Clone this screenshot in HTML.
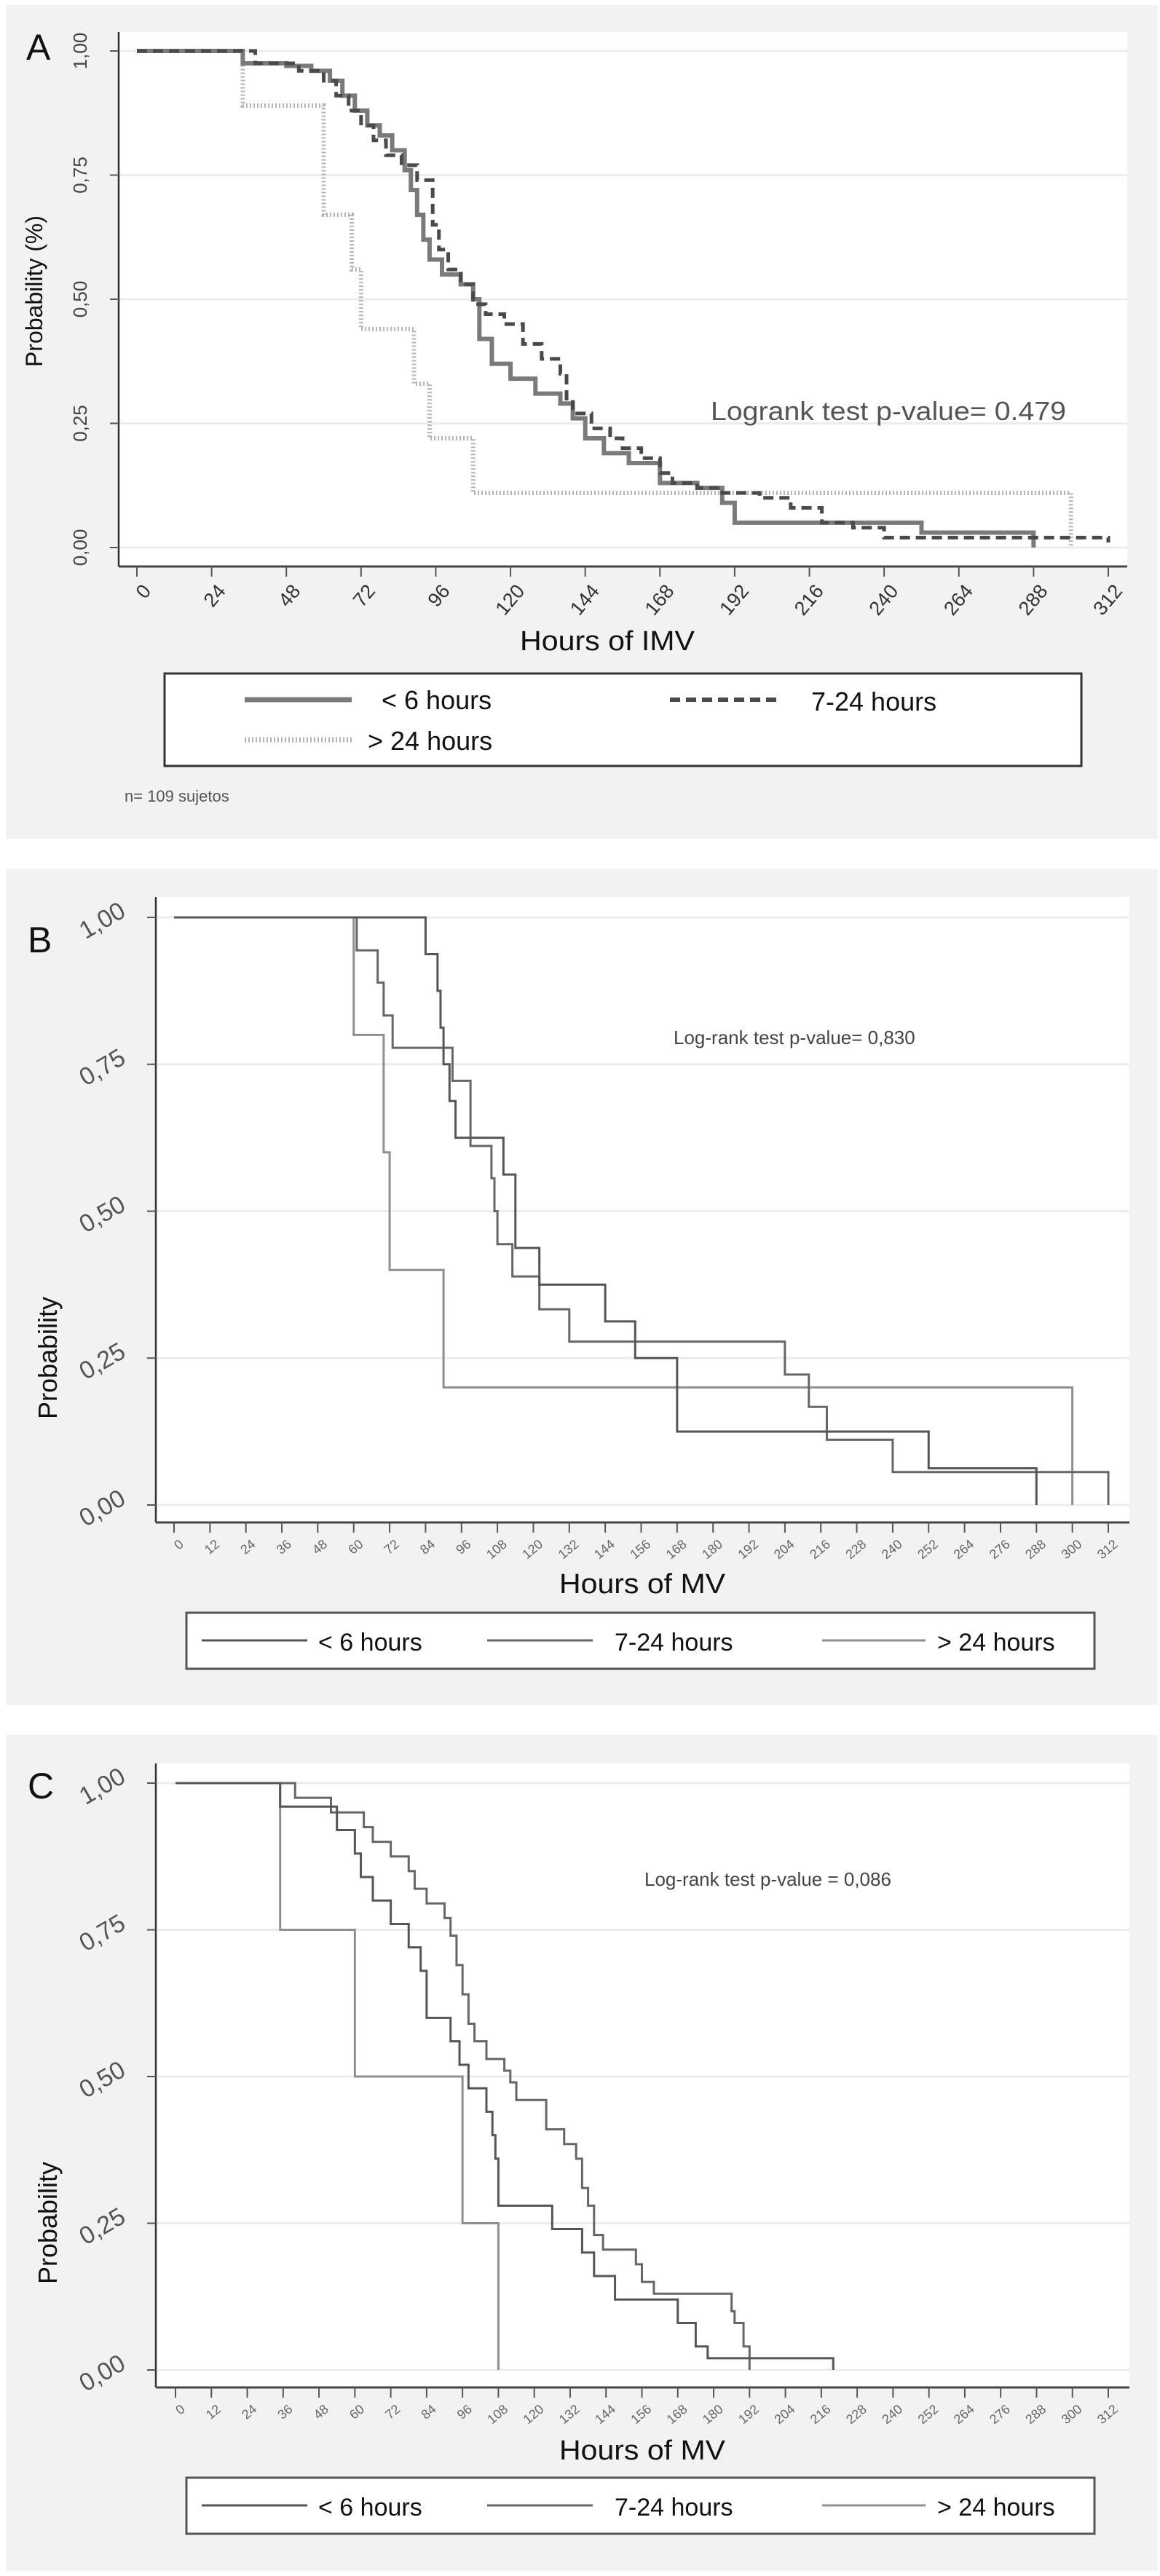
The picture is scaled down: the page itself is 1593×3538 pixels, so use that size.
<!DOCTYPE html>
<html><head><meta charset="utf-8">
<style>
html,body{margin:0;padding:0;background:#fff;}
svg{display:block;}
text{font-family:"Liberation Sans",sans-serif;}
</style></head>
<body>
<svg id="fig" width="1593" height="3538" viewBox="0 0 1593 3538" xmlns="http://www.w3.org/2000/svg"></svg>
<script>
// ---------- Panel A data ----------
const aTicksX = [0,24,48,72,96,120,144,168,192,216,240,264,288,312];
const aTicksY = [0,0.25,0.5,0.75,1];
const aTicksYLabels = ["0,00","0,25","0,50","0,75","1,00"];
const aLt6Times = [0,34,48,56,62,66,70,74,78,82,86,88,90,92,94,98,104,108,110,114,120,128,136,140,144,150,158,168,180,188,192,252,288];
const aLt6Surv  = [1,.975,.97,.96,.94,.91,.88,.85,.83,.8,.76,.72,.67,.62,.58,.55,.53,.5,.42,.37,.34,.31,.29,.26,.22,.19,.17,.13,.12,.09,.05,.03,0];
const aMidTimes = [0,38,52,60,64,68,72,76,80,85,90,95,97,100,104,108,112,118,124,130,136,138,140,146,152,156,162,168,172,180,188,200,210,220,230,240,312];
const aMidSurv  = [1,.975,.96,.94,.91,.88,.85,.82,.79,.77,.74,.65,.6,.56,.53,.49,.47,.45,.41,.38,.35,.3,.27,.24,.22,.2,.18,.15,.13,.12,.11,.1,.08,.05,.04,.02,.01];
const aGt24Times = [0,34,60,69,72,89,94,108,300];
const aGt24Surv  = [1,.89,.67,.56,.44,.33,.22,.11,0];
// ---------- Panel B data ----------
const bcTicksX = [0,12,24,36,48,60,72,84,96,108,120,132,144,156,168,180,192,204,216,228,240,252,264,276,288,300,312];
const bLt6Times = [0,84,88,89,90,92,94,110,114,122,144,154,168,252,288];
const bLt6Surv  = [1,.9375,.875,.8125,.75,.6875,.625,.5625,.4375,.375,.3125,.25,.125,.0625,0];
const bMidTimes = [0,61,68,70,73,93,99,106,107,108,113,122,132,204,212,218,240,312];
const bMidSurv  = [1,.944,.889,.833,.778,.722,.611,.556,.5,.444,.389,.333,.278,.222,.167,.111,.056,0];
const bGt24Times = [0,60,70,72,90,300];
const bGt24Surv  = [1,.8,.6,.4,.2,0];
// ---------- Panel C data ----------
const cLt6Times = [0,35,54,60,62,66,72,78,82,84,92,95,98,104,106,107,108,126,136,140,147,168,174,178,220];
const cLt6Surv  = [1,.96,.92,.88,.84,.8,.76,.72,.68,.6,.56,.52,.48,.44,.4,.36,.28,.24,.2,.16,.12,.08,.04,.02,0];
const cMidTimes = [0,40,52,63,66,72,78,80,84,90,92,94,96,98,100,104,110,112,114,124,130,134,136,138,140,143,154,156,160,186,187,190,192];
const cMidSurv  = [1,.975,.95,.925,.9,.875,.85,.82,.795,.77,.74,.69,.64,.59,.56,.53,.51,.49,.46,.41,.385,.36,.31,.28,.23,.205,.18,.15,.13,.1,.08,.04,0];
const cGt24Times = [0,35,60,96,108];
const cGt24Surv  = [1,.75,.5,.25,0];

const NS = "http://www.w3.org/2000/svg";
const svg = document.getElementById('fig');
function mk(tag, attrs, parent){
  const e = document.createElementNS(NS, tag);
  for (const k in attrs) e.setAttribute(k, attrs[k]);
  (parent||svg).appendChild(e);
  return e;
}
function txt(s, attrs, parent){ const e = mk('text', attrs, parent); e.textContent = s; return e; }

function stepPath(times, surv, sx, sy){
  let d = `M${sx(times[0])},${sy(surv[0])}`;
  for (let i=1;i<times.length;i++){
    d += ` H${sx(times[i])} V${sy(surv[i])}`;
  }
  return d;
}

function panel(cfg){
  const g = mk('g', {});
  
  
  const bg = mk('rect', {x:8, y:cfg.top, width:1582, height:cfg.bottom-cfg.top, fill:'#f2f2f2'}, g);
  
  
  const plot = mk('rect', {x:cfg.axX, y:cfg.plotTop, width:cfg.plotRight-cfg.axX, height:cfg.axY-cfg.plotTop, fill:'#fff'}, g);
  
  
  const sx = t => cfg.x0 + (t/312)*(cfg.x312-cfg.x0);
  const sy = p => cfg.y0 - p*(cfg.y0-cfg.y1);
  aTicksY.forEach(v=>{
    const l = mk('line', {x1:cfg.axX, x2:cfg.plotRight, y1:sy(v), y2:sy(v), stroke:'#ececec', 'stroke-width':3}, g);
    
    
  });
  const ya = mk('line', {x1:cfg.axX, x2:cfg.axX, y1:cfg.plotTop, y2:cfg.axY, stroke:'#333', 'stroke-width':2.5}, g);
  
  
  const xa = mk('line', {x1:cfg.axX, x2:cfg.plotRight, y1:cfg.axY, y2:cfg.axY, stroke:'#444', 'stroke-width':3}, g);
  
  
  aTicksY.forEach((v,i)=>{
    mk('line', {x1:cfg.axX-12, x2:cfg.axX, y1:sy(v), y2:sy(v), stroke:'#555', 'stroke-width':2}, g);
    const t = txt(aTicksYLabels[i], {x:0, y:0, 'font-size':cfg.yTickFont, fill:cfg.yTickColor, 'text-anchor':'middle',
      transform:`translate(${cfg.axX-cfg.yTickOff},${sy(v)+cfg.yTickDy}) rotate(${cfg.yTickRot})`}, g);
    
    
  });
  cfg.ticksX.forEach(v=>{
    mk('line', {x1:sx(v), x2:sx(v), y1:cfg.axY, y2:cfg.axY+14, stroke:'#555', 'stroke-width':2}, g);
    const t = txt(String(v), {x:0, y:0, 'font-size':cfg.xTickFont, fill:cfg.xTickColor, 'text-anchor':'end',
      transform:`translate(${sx(v)+6},${cfg.axY+22}) rotate(${cfg.xTickRot})`, 'dominant-baseline':'hanging'}, g);
    
    
  });
  cfg.series.forEach(s=>{
    const p = mk('path', {d:stepPath(s.t, s.s, sx, sy), fill:'none', stroke:s.color, 'stroke-width':s.w, 'stroke-dasharray':s.dash||'none'}, g);
    
    
  });
  return g;
}

const gA = panel({name:'panel-a', top:7, bottom:1152, axX:163, plotTop:44, plotRight:1548, axY:778,
  x0:188, x312:1522, y0:752, y1:70, ticksX:aTicksX,
  yTickFont:26, yTickColor:'#444', yTickOff:44, yTickDy:0, yTickRot:-90,
  xTickFont:27, xTickColor:'#333', xTickRot:-50,
  series:[
    {name:'curve-gt24h', t:aGt24Times, s:aGt24Surv, color:'#b4b4b4', w:6, dash:'2 3'},
    {name:'curve-lt6h', t:aLt6Times, s:aLt6Surv, color:'#7a7a7a', w:6},
    {name:'curve-7-24h', t:aMidTimes, s:aMidSurv, color:'#4a4a4a', w:5, dash:'14 8'}
  ]});
const gB = panel({name:'panel-b', top:1193, bottom:2342, axX:214, plotTop:1232, plotRight:1551, axY:2091,
  x0:239, x312:1522, y0:2067, y1:1260, ticksX:bcTicksX,
  yTickFont:34, yTickColor:'#555', yTickOff:68, yTickDy:14, yTickRot:-30,
  xTickFont:18, xTickColor:'#666', xTickRot:-40,
  series:[
    {name:'curve-gt24h', t:bGt24Times, s:bGt24Surv, color:'#8f8f8f', w:3},
    {name:'curve-7-24h', t:bMidTimes, s:bMidSurv, color:'#666', w:3},
    {name:'curve-lt6h', t:bLt6Times, s:bLt6Surv, color:'#555', w:3}
  ]});
const gC = panel({name:'panel-c', top:2383, bottom:3531, axX:214, plotTop:2422, plotRight:1551, axY:3279,
  x0:241, x312:1522, y0:3255, y1:2449, ticksX:bcTicksX,
  yTickFont:34, yTickColor:'#555', yTickOff:68, yTickDy:14, yTickRot:-30,
  xTickFont:18, xTickColor:'#666', xTickRot:-40,
  series:[
    {name:'curve-gt24h', t:cGt24Times, s:cGt24Surv, color:'#8f8f8f', w:3},
    {name:'curve-7-24h', t:cMidTimes, s:cMidSurv, color:'#666', w:3},
    {name:'curve-lt6h', t:cLt6Times, s:cLt6Surv, color:'#555', w:3}
  ]});

function label(g, s, attrs, name){
  const t = txt(s, attrs, g);
  
  
  return t;
}
label(gA, 'A', {x:36, y:82, 'font-size':50, fill:'#111'}, 'panel-letter');
label(gA, 'Probability (%)', {x:0,y:0,'font-size':32,fill:'#111','text-anchor':'middle',transform:'translate(58,400) rotate(-90)'}, 'y-axis-title');
label(gA, 'Hours of IMV', {x:834, y:893, 'font-size':38, fill:'#111', 'text-anchor':'middle', textLength:240, lengthAdjust:'spacingAndGlyphs'}, 'x-axis-title');
label(gA, 'Logrank test p-value= 0.479', {x:976, y:577, 'font-size':36, fill:'#555', textLength:488, lengthAdjust:'spacingAndGlyphs'}, 'logrank-annotation');
label(gA, 'n= 109 sujetos', {x:171, y:1101, 'font-size':22, fill:'#555'}, 'sample-size-note');
{
  const box = mk('rect', {x:226, y:925, width:1259, height:127, fill:'#fff', stroke:'#333', 'stroke-width':3}, gA);
  
  
  mk('line', {x1:336, x2:483, y1:961, y2:961, stroke:'#7a7a7a', 'stroke-width':7}, gA);
  label(gA, '< 6 hours', {x:524, y:974, 'font-size':36, fill:'#111'}, 'legend-entry-lt6h');
  mk('line', {x1:920, x2:1068, y1:961, y2:961, stroke:'#4a4a4a', 'stroke-width':6, 'stroke-dasharray':'14 8'}, gA);
  label(gA, '7-24 hours', {x:1114, y:976, 'font-size':36, fill:'#111'}, 'legend-entry-7-24h');
  mk('line', {x1:336, x2:483, y1:1016, y2:1016, stroke:'#b4b4b4', 'stroke-width':7, 'stroke-dasharray':'2 3'}, gA);
  label(gA, '> 24 hours', {x:505, y:1030, 'font-size':36, fill:'#111'}, 'legend-entry-gt24h');
}
function bcStatic(g, letter, letterY, titleY, annot, annotX, annotY, legTop, legY){
  label(g, letter, {x:38, y:letterY, 'font-size':50, fill:'#111'}, 'panel-letter');
  label(g, 'Probability', {x:0,y:0,'font-size':36,fill:'#111','text-anchor':'middle',transform:`translate(78,${(legTop-350)}) rotate(-90)`}, 'y-axis-title');
  label(g, 'Hours of MV', {x:882, y:titleY, 'font-size':38, fill:'#111', 'text-anchor':'middle', textLength:228, lengthAdjust:'spacingAndGlyphs'}, 'x-axis-title');
  label(g, annot, {x:annotX, y:annotY, 'font-size':26, fill:'#444'}, 'logrank-annotation');
  const box = mk('rect', {x:256, y:legTop, width:1247, height:77, fill:'#fff', stroke:'#555', 'stroke-width':3}, g);
  
  
  mk('line', {x1:277, x2:422, y1:legY, y2:legY, stroke:'#555', 'stroke-width':3}, g);
  label(g, '< 6 hours', {x:437, y:legY+14, 'font-size':34, fill:'#111'}, 'legend-entry-lt6h');
  mk('line', {x1:669, x2:814, y1:legY, y2:legY, stroke:'#666', 'stroke-width':3}, g);
  label(g, '7-24 hours', {x:844, y:legY+14, 'font-size':34, fill:'#111'}, 'legend-entry-7-24h');
  mk('line', {x1:1129, x2:1271, y1:legY, y2:legY, stroke:'#8f8f8f', 'stroke-width':3}, g);
  label(g, '> 24 hours', {x:1287, y:legY+14, 'font-size':34, fill:'#111'}, 'legend-entry-gt24h');
}
bcStatic(gB, 'B', 1308, 2188, 'Log-rank test p-value= 0,830', 925, 1434, 2215, 2253);
bcStatic(gC, 'C', 2470, 3378, 'Log-rank test p-value = 0,086', 885, 2590, 3403, 3441);
</script>
</body></html>
